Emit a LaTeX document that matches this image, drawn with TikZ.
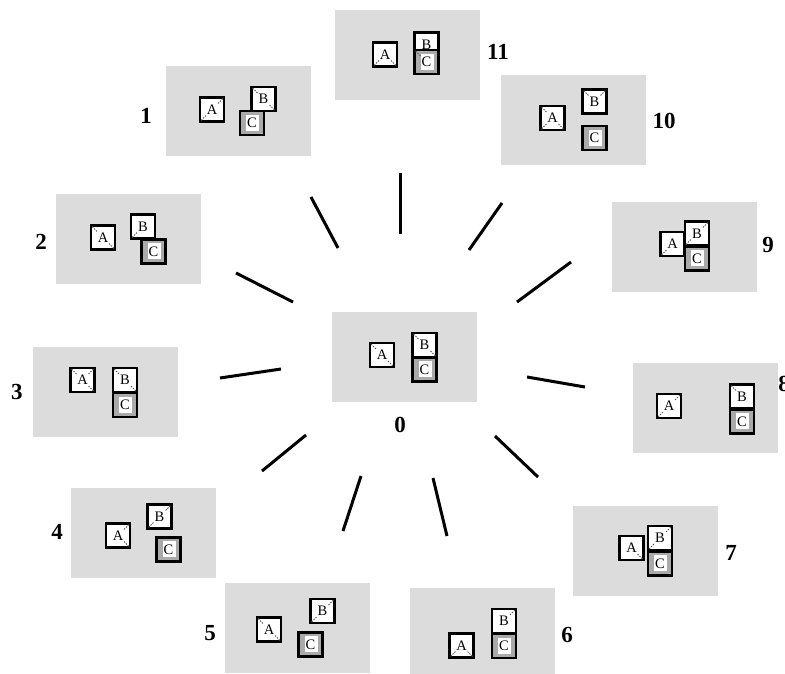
\documentclass[tikz,border=0pt]{standalone}
\usepackage{fontspec}
\setmainfont{Liberation Serif}
\definecolor{panelgrey}{RGB}{220,220,220}
\definecolor{cgrey}{RGB}{170,170,170}
\tikzset{
  panel/.style={fill=panelgrey, draw=none, minimum width=145pt, minimum height=90pt, inner sep=0pt},
  blk/.style={draw=black, fill=white, line width=2.8pt, minimum size=24pt, inner sep=0pt,
    font=\fontsize{14.5}{14.5}\selectfont},
  cblk/.style={blk, fill=cgrey, path picture={\fill[white] ([shift={(-6,-8.5)}]path picture bounding box.center) rectangle ++(13,16);}},
  lbl/.style={font=\fontsize{23}{23}\selectfont\bfseries, inner sep=0pt},
  spoke/.style={line width=3pt, black},
  cmark/.style={draw=black!65, line width=1pt, dash pattern=on 1.5pt off 1.2pt}
}
\newcommand\mTL[1]{\draw[cmark] ([shift={(2.5,2.5)}]#1.north west) -- ++(5,5);}
\newcommand\mTR[1]{\draw[cmark] ([shift={(-2.5,2.5)}]#1.north east) -- ++(-5,5);}
\newcommand\mBL[1]{\draw[cmark] ([shift={(2.5,-2.5)}]#1.south west) -- ++(5,-5);}
\newcommand\mBR[1]{\draw[cmark] ([shift={(-2.5,-2.5)}]#1.south east) -- ++(-5,-5);}
\begin{document}
\begin{tikzpicture}[x=1pt,y=-1pt]
\useasboundingbox (0,0) rectangle (785,673);
% panels
\node[panel] (P0) at (404.5,357) {};
\node[panel] (P11) at (407,54.5) {};
\node[panel] (P1) at (238,110.5) {};
\node[panel] (P10) at (573.5,120) {};
\node[panel] (P2) at (128,239) {};
\node[panel] (P9) at (684.5,246.5) {};
\node[panel] (P3) at (105,392) {};
\node[panel] (P8) at (705,407.5) {};
\node[panel] (P4) at (143,532.5) {};
\node[panel] (P7) at (645.5,550.5) {};
\node[panel] (P5) at (297,628) {};
\node[panel] (P6) at (482.5,633) {};
% labels
\node[lbl] (L0) at (400,425) {0};
\node[lbl] (L11) at (498,52) {11};
\node[lbl] (L1) at (146,116) {1};
\node[lbl] (L10) at (664,121) {10};
\node[lbl] (L2) at (41,242) {2};
\node[lbl] (L9) at (768,245) {9};
\node[lbl] (L3) at (17,392) {3};
\node[lbl] (L8) at (784,384) {8};
\node[lbl] (L4) at (57,532) {4};
\node[lbl] (L7) at (731,553) {7};
\node[lbl] (L5) at (210,633) {5};
\node[lbl] (L6) at (567,635) {6};
% panel 0
\node[blk] (A0) at (382,355) {A};
\node[blk] (B0) at (424.5,345) {B};
\node[cblk] (C0) at (424.5,369.5) {C};
\mTL{A0}\mBR{A0}\mTL{B0}\mBR{B0}
% panel 11
\node[blk] (A11) at (385,54.5) {A};
\node[blk] (B11) at (426.5,44.5) {B};
\node[cblk] (C11) at (426.5,62) {C};
\mBL{A11}\mBR{A11}\mTL{C11}
% panel 1
\node[blk] (A1) at (212,109.5) {A};
\node[cblk] (C1) at (252,123) {C};
\node[blk] (B1) at (263.5,99) {B};
\mBL{A1}\mTR{A1}\mTL{B1}\mBR{B1}
% panel 10
\node[blk] (A10) at (552.5,118) {A};
\node[blk] (B10) at (594.5,101.5) {B};
\node[cblk] (C10) at (594.5,138) {C};
\mTL{A10}\mBL{A10}\mBR{A10}\mTL{B10}\mTR{B10}
% panel 2
\node[blk] (A2) at (103,237.5) {A};
\node[cblk] (C2) at (153.5,251.5) {C};
\node[blk] (B2) at (143,226.5) {B};
\mTL{A2}\mBR{A2}\mBL{B2}
% panel 9
\node[blk] (A9) at (672.5,244) {A};
\node[cblk] (C9) at (697,258.5) {C};
\node[blk] (B9) at (697,233.5) {B};
\mBL{A9}\mBL{B9}\mTR{B9}
% panel 8
\node[blk] (A8) at (669,406) {A};
\node[blk] (B8) at (742,396.5) {B};
\node[cblk] (C8) at (742,421.5) {C};
\mTR{A8}\mBL{A8}\mTL{B8}
% panel 7
\node[blk] (A7) at (631.5,548) {A};
\node[blk] (B7) at (660,538) {B};
\node[cblk] (C7) at (660,563.5) {C};
\mBR{A7}\mTR{B7}\mBL{B7}
% panel 6
\node[blk] (A6) at (461.5,645.5) {A};
\node[blk] (B6) at (504,621) {B};
\node[cblk] (C6) at (504,646) {C};
\mBL{A6}\mBR{A6}\mTR{B6}
% panel 5
\node[blk] (A5) at (269,629.5) {A};
\node[blk] (B5) at (322.5,611) {B};
\node[cblk] (C5) at (310.5,644.5) {C};
\mTL{A5}\mBR{A5}\mBL{B5}\mTR{B5}
% panel 4
\node[blk] (A4) at (118,535.5) {A};
\node[blk] (B4) at (159.5,516.5) {B};
\node[cblk] (C4) at (168.5,549.5) {C};
\mTR{A4}\mBR{A4}\mTR{B4}\mBL{B4}
% panel 3
\node[blk] (A3) at (82.5,380) {A};
\node[blk] (B3) at (125,380) {B};
\node[cblk] (C3) at (125,405) {C};
\mTL{A3}\mTR{A3}\mBR{A3}\mTL{B3}\mBR{B3}
% spokes
\coordinate (s11a) at (400,173); \coordinate (s11b) at (400,234);
\coordinate (s1a) at (311,197);  \coordinate (s1b) at (338,248);
\coordinate (s10a) at (502,203); \coordinate (s10b) at (469,250);
\coordinate (s2a) at (236,273);  \coordinate (s2b) at (293,302);
\coordinate (s9a) at (571,262);  \coordinate (s9b) at (517,302);
\coordinate (s3a) at (220,378);  \coordinate (s3b) at (281,369);
\coordinate (s8a) at (527,377);  \coordinate (s8b) at (585,387);
\coordinate (s4a) at (262,471);  \coordinate (s4b) at (306,435);
\coordinate (s7a) at (495,436);  \coordinate (s7b) at (538,477);
\coordinate (s5a) at (361,476);  \coordinate (s5b) at (343,531);
\coordinate (s6a) at (433,478);  \coordinate (s6b) at (447,536);
\foreach \s in {11,1,10,2,9,3,8,4,7,5,6} \draw[spoke] (s\s a) -- (s\s b);
\end{tikzpicture}
\end{document}
